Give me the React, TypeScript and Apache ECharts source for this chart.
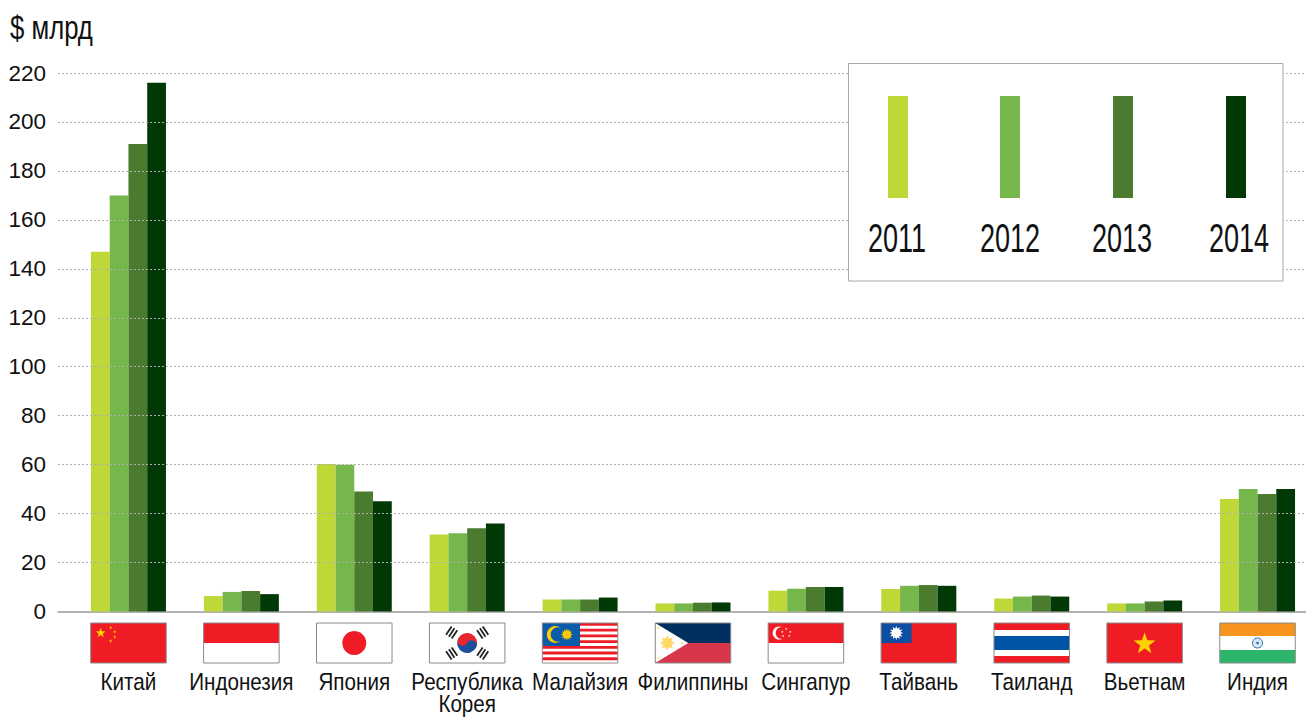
import React, { useEffect, useRef } from "react";
import * as echarts from "echarts";

const countries = ["Китай", "Индонезия", "Япония", "Республика\nКорея", "Малайзия", "Филиппины", "Сингапур", "Тайвань", "Таиланд", "Вьетнам", "Индия"];
const years = ["2011", "2012", "2013", "2014"];
const colors = ["#BFD837", "#76B74B", "#4A7B2E", "#003905"];
const values2011 = [147, 6.3, 60.3, 31.5, 4.9, 3.3, 8.5, 9.2, 5.3, 3.3, 46];
const values2012 = [170, 8, 60, 32, 4.9, 3.3, 9.3, 10.5, 6.1, 3.3, 50];
const values2013 = [191, 8.4, 49, 34, 4.9, 3.6, 10, 10.8, 6.5, 4.1, 48];
const values2014 = [216, 7.1, 45, 36, 5.7, 3.7, 10, 10.5, 6.1, 4.5, 50];
const seriesValues = [values2011, values2012, values2013, values2014];

const FONT = "'Liberation Sans', sans-serif";
const W = 75.5;
const H = 40;
const RED = "#EF1C25";
const YEL = "#FFD200";

const rect = (x: number, y: number, width: number, height: number, fill: string) => ({ type: "rect", shape: { x, y, width, height }, style: { fill } });
const circle = (cx: number, cy: number, r: number, fill: string) => ({ type: "circle", shape: { cx, cy, r }, style: { fill } });
const star = (cx: number, cy: number, r: number, fill: string) => {
  const points: number[][] = [];
  for (let i = 0; i < 10; i++) {
    const rr = i % 2 ? r * 0.4 : r;
    const a = -Math.PI / 2 + (i * Math.PI) / 5;
    points.push([cx + rr * Math.cos(a), cy + rr * Math.sin(a)]);
  }
  return { type: "polygon", shape: { points }, style: { fill } };
};
const sun = (cx: number, cy: number, r: number, rays: number, fill: string) => {
  const points: number[][] = [];
  for (let i = 0; i < rays * 2; i++) {
    const rr = i % 2 ? r * 0.62 : r;
    const a = (i * Math.PI) / rays;
    points.push([cx + rr * Math.cos(a), cy + rr * Math.sin(a)]);
  }
  return { type: "polygon", shape: { points }, style: { fill } };
};
const trigram = (cx: number, cy: number, angle: number) => ({
  type: "group",
  x: cx,
  y: cy,
  rotation: angle,
  children: [-3.4, 0, 3.4].map((dy) => rect(-5, dy - 0.9, 10, 1.8, "#222")),
});

const flags: (() => any[])[] = [
  () => [rect(0, 0, W, H, RED), star(10, 10, 5.2, YEL), star(20, 4.5, 1.7, YEL), star(24, 8.7, 1.7, YEL), star(24, 14, 1.7, YEL), star(20, 18, 1.7, YEL)],
  () => [rect(0, 0, W, 20, RED), rect(0, 20, W, 20, "#fff")],
  () => [rect(0, 0, W, H, "#fff"), circle(W / 2, 20, 12, RED)],
  () => [
    rect(0, 0, W, H, "#fff"),
    { type: "group", x: W / 2, y: 20, rotation: -0.45, children: [
      { type: "sector", shape: { cx: 0, cy: 0, r: 10, r0: 0, startAngle: Math.PI, endAngle: 0, clockwise: true }, style: { fill: "#E8262E" } },
      { type: "sector", shape: { cx: 0, cy: 0, r: 10, r0: 0, startAngle: 0, endAngle: Math.PI, clockwise: true }, style: { fill: "#1D4E9E" } },
      circle(-5, 0, 5, "#E8262E"),
      circle(5, 0, 5, "#1D4E9E"),
    ] },
    trigram(W / 2 - 15.5, 9.5, 0.98), trigram(W / 2 + 15.5, 9.5, -0.98), trigram(W / 2 - 15.5, 30.5, -0.98), trigram(W / 2 + 15.5, 30.5, 0.98),
  ],
  () => [
    rect(0, 0, W, H, "#fff"),
    ...[0, 1, 2, 3, 4, 5, 6].map((i) => rect(0, i * 5.72, W, 2.86, RED)),
    rect(0, 0, 37.7, 23, "#0B5CA8"),
    circle(13, 11.5, 8.5, "#FFCB05"),
    circle(15.5, 11.5, 7.2, "#0B5CA8"),
    sun(24.5, 11.5, 6, 12, "#FFCB05"),
  ],
  () => [
    rect(0, 0, W, 20, "#00305F"),
    rect(0, 20, W, 20, "#D8364B"),
    { type: "polygon", shape: { points: [[0, 0], [33, 20], [0, 40]] }, style: { fill: "#fff" } },
    sun(12, 20, 7.5, 8, "#FFD966"),
    star(3, 5, 1.7, "#FFD966"), star(3, 35, 1.7, "#FFD966"), star(27, 20, 1.7, "#FFD966"),
  ],
  () => [
    rect(0, 0, W, 20, RED), rect(0, 20, W, 20, "#fff"),
    circle(11, 10, 6.5, "#fff"), circle(13.5, 10, 6, RED),
    star(18, 6, 1.3, "#fff"), star(22, 9, 1.3, "#fff"), star(21, 13, 1.3, "#fff"), star(15, 13, 1.3, "#fff"), star(14, 9, 1.3, "#fff"),
  ],
  () => [rect(0, 0, W, H, RED), rect(0, 0, 30.5, 20, "#0B4EA2"), sun(15.2, 10, 7, 12, "#fff"), circle(15.2, 10, 4.2, "#fff")],
  () => [rect(0, 0, W, H, RED), rect(0, 7, W, 26, "#fff"), rect(0, 13, W, 14, "#0054A6")],
  () => [rect(0, 0, W, H, RED), star(W / 2, 21, 11.5, YEL)],
  () => [
    rect(0, 0, W, 13, "#F7941D"), rect(0, 13, W, 14, "#fff"), rect(0, 27, W, 13, "#2DB56B"),
    { type: "circle", shape: { cx: W / 2, cy: 20, r: 5 }, style: { fill: "#DCE8F4", stroke: "#2A6EB5", lineWidth: 1 } },
    circle(W / 2, 20, 1.3, "#2A6EB5"),
  ],
];

const legendX = [898, 1010, 1123, 1236];
const legendLabelX = [897, 1010, 1122, 1239];

export default function App() {
  const ref = useRef<HTMLDivElement>(null);
  useEffect(() => {
    const chart = echarts.init(ref.current!, undefined, { renderer: "svg" });
    const option: any = {
      animation: false,
      backgroundColor: "#fff",
      grid: [
        { left: 72, right: 0, top: 73, bottom: 106.5 },
        { left: 58, right: 8, top: 73, bottom: 106.5 },
      ],
      xAxis: [
        {
          type: "category",
          gridIndex: 0,
          data: countries,
          axisLine: { show: false },
          axisTick: { show: false },
          axisLabel: { show: false },
        },
        {
          type: "value",
          gridIndex: 1,
          min: 0,
          max: 1,
          axisLine: { show: true, lineStyle: { color: "#999", width: 1.5 } },
          axisTick: { show: false },
          axisLabel: { show: false },
          splitLine: { show: false },
        },
      ],
      yAxis: [
        { type: "value", gridIndex: 0, min: 0, max: 220, interval: 20, show: false },
        {
          type: "value",
          gridIndex: 1,
          min: 0,
          max: 220,
          interval: 20,
          z: 5,
          axisLine: { show: false },
          axisTick: { show: false },
          axisLabel: { margin: 12, fontFamily: FONT, fontSize: 22.5, color: "#111" },
          splitLine: {
            lineStyle: { color: "#B0B0B0", width: 1, type: [2, 2] },
            showMinLine: false,
          },
        },
      ],
      series: [
        ...years.map((y, i) => ({
          name: y,
          type: "bar",
          xAxisIndex: 0,
          yAxisIndex: 0,
          data: seriesValues[i],
          barWidth: 18.75,
          barGap: 0,
          itemStyle: { color: colors[i] },
        })),
        {
          type: "custom",
          xAxisIndex: 0,
          yAxisIndex: 0,
          silent: true,
          clip: false,
          data: countries.map((_, i) => [i, 0]),
          renderItem: (params: any, api: any) => {
            const p = api.coord([params.dataIndex, 0]);
            return {
              type: "group",
              x: p[0] - W / 2,
              y: 623,
              children: [
                ...flags[params.dataIndex](),
                { type: "rect", shape: { x: 0, y: 0, width: W, height: H }, style: { fill: "none", stroke: "#8A8A8A", lineWidth: 1 } },
                {
                  type: "text",
                  x: W / 2,
                  y: 48,
                  scaleX: 0.86,
                  style: { text: countries[params.dataIndex], fontFamily: FONT, fontSize: 24, lineHeight: 22, fill: "#111", textAlign: "center", textVerticalAlign: "top" },
                },
              ],
            };
          },
        },
      ],
      graphic: [
        { type: "text", x: 10, y: 27, scaleX: 0.78, style: { text: "$ млрд", fontFamily: FONT, fontSize: 33, fill: "#111", textAlign: "left", textVerticalAlign: "middle" } },
        { type: "rect", z: 10, shape: { x: 848.5, y: 63.5, width: 434.5, height: 217.5 }, style: { fill: "#fff", stroke: "#A8A8A8", lineWidth: 1 } },
        ...years.flatMap((y, i) => [
          { type: "rect", z: 11, shape: { x: legendX[i] - 10, y: 96, width: 20, height: 102 }, style: { fill: colors[i] } },
          {
            type: "text",
            z: 11,
            x: legendLabelX[i],
            y: 238,
            scaleX: 0.66,
            style: { text: y, fontFamily: FONT, fontSize: 41, fill: "#111", textAlign: "center", textVerticalAlign: "middle" },
          },
        ]),
      ],
    };
    chart.setOption(option);
    return () => chart.dispose();
  }, []);
  return (
    <div style={{ position: "absolute", left: 0, top: 0, width: 1306, height: 718, overflow: "hidden" }}>
      <div ref={ref} style={{ width: 1314, height: 718 }} />
    </div>
  );
}
